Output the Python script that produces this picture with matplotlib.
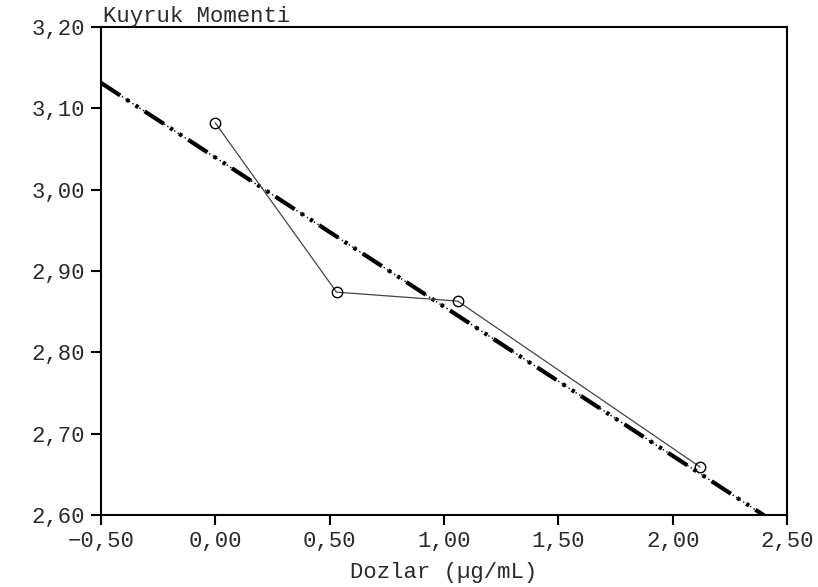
import matplotlib
matplotlib.use("Agg")
import matplotlib.pyplot as plt
import numpy as np
from matplotlib.ticker import FuncFormatter

# Dose vs tail moment
doses = [0.0, 0.53, 1.06, 2.12]
tail_moment = [3.082, 2.874, 2.863, 2.659]

x_ticks = [-0.5, 0.0, 0.5, 1.0, 1.5, 2.0, 2.5]
y_ticks = [2.6, 2.7, 2.8, 2.9, 3.0, 3.1, 3.2]

plt.rcParams['font.family'] = ['Liberation Mono', 'DejaVu Sans Mono']
txt_color = '#2a2a2a'

fig = plt.figure(figsize=(8.18, 5.87), dpi=100)
ax = fig.add_axes([101 / 818, 1 - 515 / 587, (787 - 101) / 818, (515 - 27) / 587])

# linear fit through the points
coef = np.polyfit(doses, tail_moment, 1)
fit = np.poly1d(coef)
xr = np.array([x_ticks[0], x_ticks[-1]])
ax.plot(xr, fit(xr), color='black', lw=1.0, linestyle=(0, (1, 2)))
ax.plot(xr, fit(xr), color='black', lw=3.0, linestyle=(0, (5.5, 1.8, 0.8, 1.8, 0.8, 1.8)))

ax.plot(doses, tail_moment, color='#444444', lw=0.9, marker='o', markersize=7.5,
        markerfacecolor='none', markeredgecolor='black', markeredgewidth=1.0)

ax.set_xlim(x_ticks[0], x_ticks[-1])
ax.set_ylim(y_ticks[0], y_ticks[-1])
ax.set_xticks(x_ticks)
ax.set_yticks(y_ticks)

fmt = FuncFormatter(lambda v, p: f"{v:.2f}".replace('.', ',').replace('-', '\u2212'))
ax.xaxis.set_major_formatter(fmt)
ax.yaxis.set_major_formatter(fmt)

for s in ax.spines.values():
    s.set_linewidth(1.5)
ax.tick_params(direction='out', length=7.5, width=1.5, labelsize=16, pad=4,
               color='black', labelcolor=txt_color)

ax.text(0.003, 1.0, 'Kuyruk Momenti', transform=ax.transAxes, ha='left', va='bottom',
        fontsize=16, color=txt_color)
ax.set_xlabel('Dozlar (\u00b5g/mL)', fontsize=16, labelpad=7, color=txt_color)

fig.savefig('out.png', dpi=100)
